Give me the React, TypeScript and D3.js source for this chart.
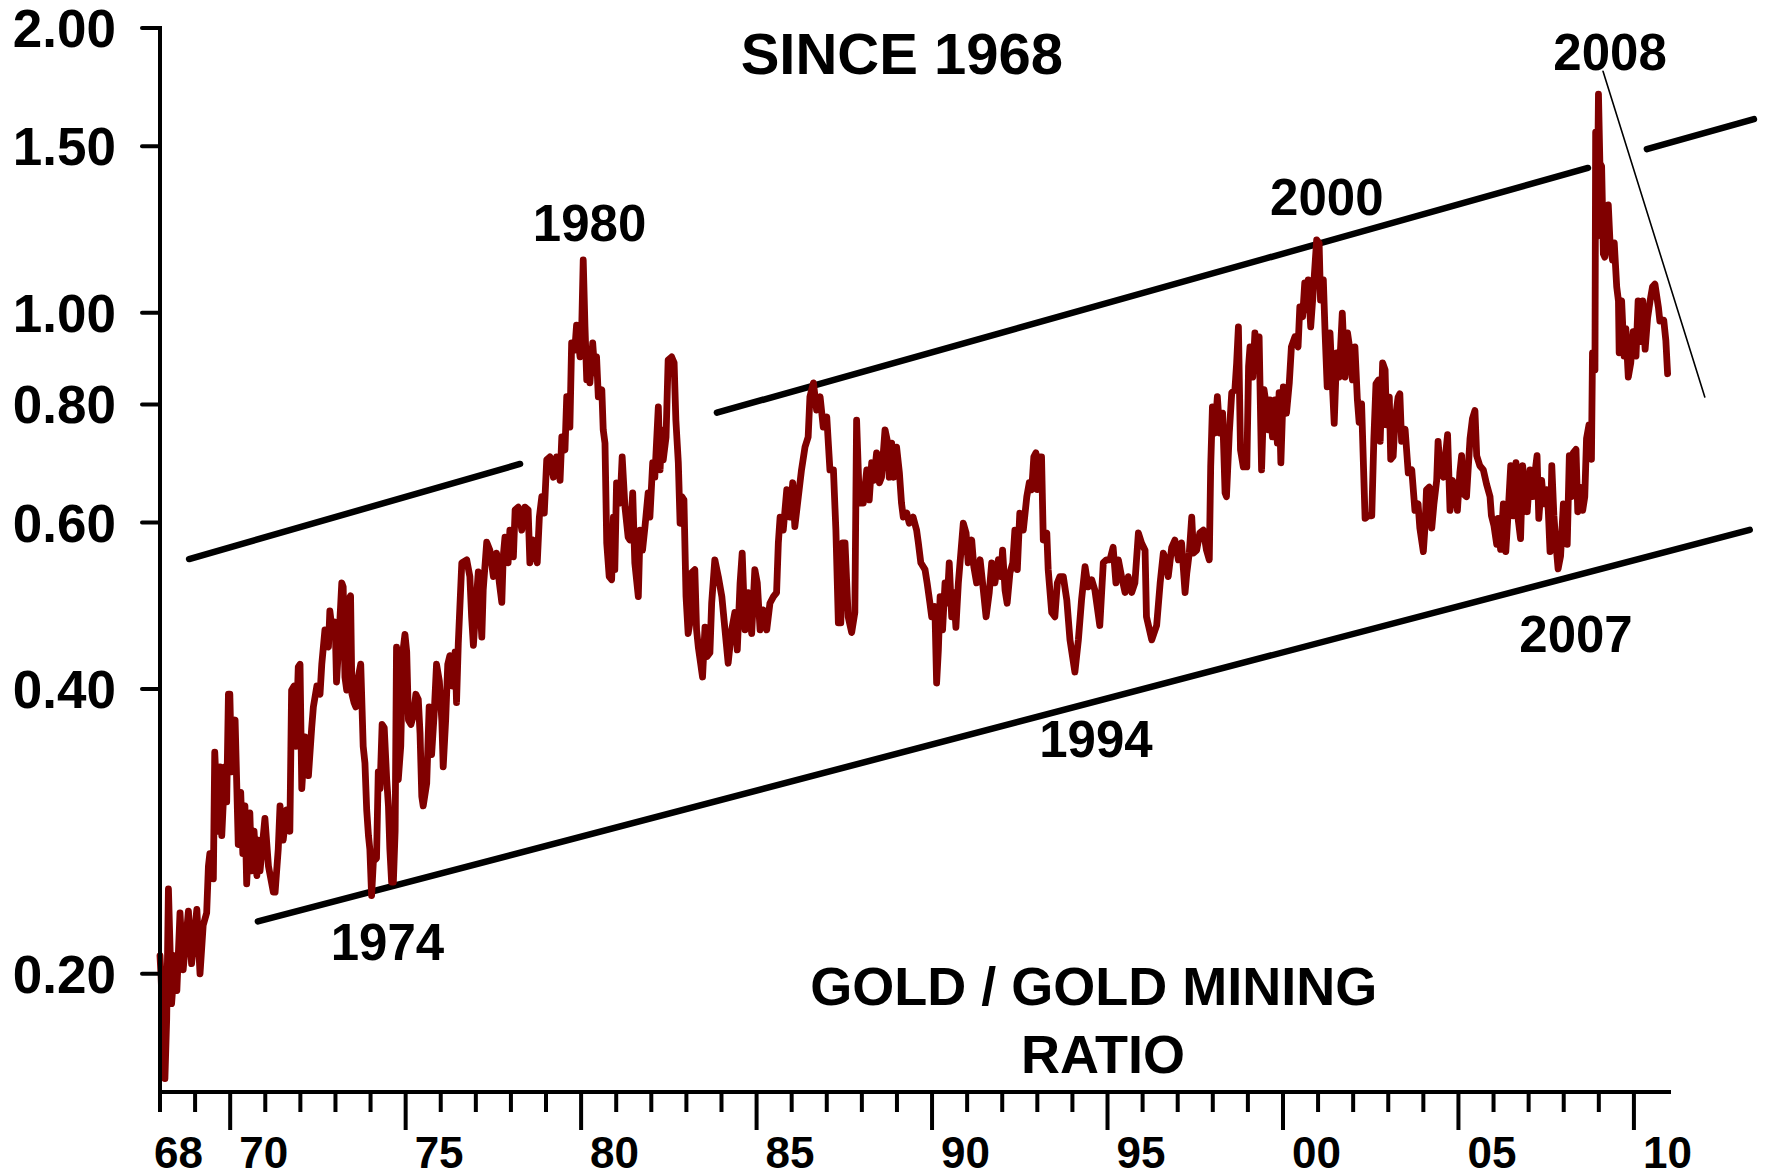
import React from "react";
import * as d3 from "d3";

type Pt = [number, number];

// Gold / gold-mining ratio (year, ratio)
const ratio1968to1975: Pt[] = [
  [1968.00,0.209],[1968.03,0.199],[1968.14,0.155],[1968.19,0.179],[1968.24,0.246],[1968.33,0.186],[1968.43,0.209],[1968.48,0.192],[1968.57,0.232],[1968.66,0.202],[1968.81,0.233],[1968.90,0.205],[1969.05,0.234],[1969.14,0.200],[1969.23,0.225],[1969.33,0.232],[1969.38,0.260],[1969.42,0.268],[1969.52,0.252],[1969.56,0.343],[1969.66,0.283],[1969.71,0.331],[1969.76,0.280],[1969.85,0.331],[1969.90,0.304],[1969.95,0.395],[1969.99,0.395],[1970.04,0.327],[1970.14,0.371],[1970.19,0.314],[1970.23,0.274],[1970.30,0.311],[1970.36,0.268],[1970.42,0.301],[1970.47,0.249],[1970.56,0.296],[1970.61,0.257],[1970.68,0.283],[1970.76,0.254],[1970.80,0.277],[1970.85,0.257],[1970.99,0.292],[1971.09,0.260],[1971.23,0.244],[1971.28,0.244],[1971.37,0.271],[1971.42,0.301],[1971.51,0.277],[1971.61,0.298],[1971.70,0.283],[1971.75,0.399],[1971.82,0.403],[1971.87,0.348],[1971.94,0.422],[1971.99,0.425],[1972.04,0.314],[1972.13,0.356],[1972.23,0.324],[1972.32,0.363],[1972.37,0.383],[1972.47,0.403],[1972.56,0.395],[1972.61,0.425],[1972.70,0.462],[1972.80,0.443],[1972.84,0.484],[1972.92,0.457],[1972.99,0.471],[1973.03,0.407],[1973.08,0.438],[1973.18,0.518],[1973.22,0.513],[1973.27,0.412],[1973.32,0.399],[1973.37,0.497],[1973.43,0.502],[1973.47,0.395],[1973.53,0.387],[1973.58,0.383],[1973.65,0.412],[1973.72,0.425],[1973.79,0.348],[1973.84,0.334],[1973.89,0.298],[1973.94,0.280],[1973.98,0.271],[1974.03,0.242],[1974.08,0.263],[1974.17,0.265],[1974.22,0.327],[1974.27,0.314],[1974.33,0.367],[1974.39,0.364],[1974.46,0.321],[1974.51,0.301],[1974.55,0.271],[1974.60,0.250],[1974.65,0.250],[1974.70,0.283],[1974.74,0.443],[1974.79,0.321],[1974.86,0.348],[1974.92,0.438],[1974.98,0.457],[1975.03,0.438],[1975.08,0.371],[1975.15,0.367],[1975.22,0.375],[1975.29,0.395],[1975.36,0.390],[1975.41,0.359],[1975.46,0.308],[1975.50,0.301],[1975.60,0.318],[1975.67,0.383],[1975.74,0.341],[1975.81,0.375],[1975.88,0.425],[1975.96,0.408]
];

const ratio1976to1984: Pt[] = [
  [1976.03,0.371],[1976.07,0.331],[1976.14,0.371],[1976.20,0.425],[1976.26,0.434],[1976.34,0.403],[1976.41,0.438],[1976.45,0.387],[1976.50,0.447],[1976.60,0.544],[1976.74,0.548],[1976.83,0.526],[1976.88,0.477],[1976.93,0.445],[1977.02,0.501],[1977.07,0.532],[1977.17,0.454],[1977.21,0.509],[1977.31,0.572],[1977.40,0.561],[1977.50,0.526],[1977.59,0.557],[1977.67,0.518],[1977.74,0.494],[1977.78,0.552],[1977.83,0.579],[1977.92,0.544],[1977.97,0.589],[1978.07,0.552],[1978.12,0.619],[1978.21,0.623],[1978.31,0.589],[1978.40,0.623],[1978.49,0.619],[1978.54,0.544],[1978.64,0.575],[1978.75,0.544],[1978.81,0.608],[1978.88,0.639],[1978.95,0.614],[1979.02,0.699],[1979.11,0.704],[1979.21,0.670],[1979.30,0.704],[1979.40,0.665],[1979.45,0.739],[1979.54,0.716],[1979.59,0.815],[1979.68,0.757],[1979.73,0.929],[1979.82,0.913],[1979.87,0.970],[1979.97,0.898],[1980.02,0.975],[1980.06,1.137],[1980.11,0.966],[1980.16,0.849],[1980.20,0.913],[1980.25,0.843],[1980.33,0.929],[1980.39,0.864],[1980.44,0.898],[1980.49,0.815],[1980.59,0.829],[1980.63,0.752],[1980.68,0.728],[1980.73,0.571],[1980.80,0.526],[1980.87,0.522],[1980.92,0.608],[1980.96,0.535],[1981.01,0.661],[1981.11,0.629],[1981.17,0.704],[1981.25,0.623],[1981.34,0.579],[1981.39,0.575],[1981.47,0.645],[1981.53,0.544],[1981.63,0.501],[1981.68,0.589],[1981.75,0.561],[1981.82,0.594],[1981.91,0.645],[1981.96,0.608],[1982.04,0.694],[1982.10,0.670],[1982.20,0.795],[1982.25,0.682],[1982.30,0.752],[1982.34,0.699],[1982.42,0.739],[1982.48,0.891],[1982.58,0.898],[1982.65,0.885],[1982.70,0.770],[1982.77,0.694],[1982.82,0.599],[1982.87,0.639],[1982.93,0.634],[1982.99,0.501],[1983.05,0.458],[1983.10,0.470],[1983.15,0.531],[1983.24,0.535],[1983.29,0.462],[1983.34,0.443],[1983.39,0.430],[1983.46,0.412],[1983.53,0.465],[1983.59,0.433],[1983.67,0.437],[1983.72,0.493],[1983.81,0.548],[1983.91,0.526],[1984.01,0.501],[1984.10,0.462],[1984.19,0.426],[1984.29,0.462],[1984.38,0.482],[1984.45,0.440],[1984.53,0.518],[1984.59,0.557],[1984.67,0.462],[1984.76,0.506],[1984.86,0.458],[1984.95,0.535]
];

const ratio1985to1993: Pt[] = [
  [1985.02,0.518],[1985.10,0.462],[1985.19,0.485],[1985.29,0.462],[1985.38,0.493],[1985.48,0.501],[1985.57,0.506],[1985.62,0.571],[1985.67,0.608],[1985.76,0.589],[1985.86,0.650],[1985.95,0.608],[1986.03,0.661],[1986.09,0.594],[1986.19,0.639],[1986.28,0.682],[1986.38,0.721],[1986.47,0.739],[1986.52,0.815],[1986.62,0.843],[1986.71,0.789],[1986.81,0.815],[1986.90,0.757],[1987.00,0.776],[1987.09,0.682],[1987.19,0.682],[1987.26,0.589],[1987.33,0.470],[1987.40,0.470],[1987.45,0.571],[1987.52,0.571],[1987.61,0.477],[1987.71,0.459],[1987.80,0.482],[1987.85,0.770],[1987.93,0.629],[1988.04,0.629],[1988.14,0.682],[1988.21,0.634],[1988.28,0.694],[1988.34,0.665],[1988.42,0.711],[1988.50,0.661],[1988.56,0.670],[1988.66,0.752],[1988.72,0.734],[1988.78,0.670],[1988.85,0.728],[1988.91,0.670],[1988.99,0.721],[1989.07,0.677],[1989.13,0.629],[1989.18,0.608],[1989.28,0.614],[1989.35,0.599],[1989.46,0.608],[1989.56,0.589],[1989.61,0.571],[1989.68,0.544],[1989.80,0.535],[1989.86,0.518],[1989.94,0.493],[1989.99,0.477],[1990.08,0.489],[1990.13,0.406],[1990.18,0.440],[1990.23,0.501],[1990.30,0.462],[1990.37,0.518],[1990.43,0.493],[1990.49,0.544],[1990.56,0.477],[1990.62,0.506],[1990.68,0.465],[1990.75,0.518],[1990.82,0.557],[1990.89,0.599],[1990.97,0.585],[1991.03,0.544],[1991.13,0.575],[1991.19,0.539],[1991.27,0.518],[1991.37,0.548],[1991.44,0.518],[1991.54,0.477],[1991.63,0.506],[1991.70,0.544],[1991.79,0.518],[1991.89,0.548],[1991.96,0.526],[1992.01,0.561],[1992.08,0.509],[1992.14,0.493],[1992.22,0.531],[1992.30,0.544],[1992.36,0.589],[1992.43,0.535],[1992.50,0.614],[1992.60,0.589],[1992.70,0.639],[1992.77,0.661],[1992.84,0.650],[1992.90,0.704],[1992.96,0.711],[1993.00,0.650],[1993.05,0.704],[1993.12,0.704],[1993.17,0.575],[1993.27,0.585],[1993.31,0.535],[1993.41,0.482],[1993.50,0.477],[1993.57,0.518],[1993.64,0.526],[1993.74,0.526],[1993.84,0.497],[1993.93,0.451]
];

const ratio1994to2001: Pt[] = [
  [1994.07,0.417],[1994.17,0.451],[1994.26,0.497],[1994.36,0.539],[1994.45,0.513],[1994.55,0.522],[1994.64,0.509],[1994.78,0.467],[1994.88,0.544],[1994.97,0.548],[1995.07,0.548],[1995.16,0.565],[1995.24,0.518],[1995.31,0.548],[1995.40,0.526],[1995.50,0.506],[1995.59,0.526],[1995.69,0.506],[1995.78,0.518],[1995.88,0.585],[1995.97,0.571],[1996.07,0.561],[1996.11,0.477],[1996.26,0.451],[1996.40,0.467],[1996.50,0.518],[1996.59,0.557],[1996.66,0.548],[1996.73,0.526],[1996.83,0.565],[1996.92,0.575],[1997.02,0.548],[1997.11,0.571],[1997.21,0.506],[1997.26,0.531],[1997.33,0.557],[1997.40,0.608],[1997.45,0.557],[1997.54,0.561],[1997.63,0.585],[1997.73,0.589],[1997.82,0.561],[1997.90,0.548],[1997.94,0.687],[1997.99,0.795],[1998.06,0.746],[1998.13,0.815],[1998.20,0.746],[1998.28,0.783],[1998.35,0.645],[1998.39,0.639],[1998.47,0.746],[1998.54,0.823],[1998.63,0.829],[1998.68,0.885],[1998.73,0.966],[1998.79,0.716],[1998.87,0.687],[1998.97,0.687],[1999.02,0.878],[1999.06,0.920],[1999.14,0.855],[1999.20,0.952],[1999.27,0.878],[1999.32,0.943],[1999.39,0.682],[1999.46,0.829],[1999.53,0.795],[1999.58,0.752],[1999.63,0.809],[1999.70,0.739],[1999.77,0.809],[1999.84,0.728],[1999.89,0.823],[1999.94,0.694],[2000.01,0.835],[2000.10,0.783],[2000.18,0.843],[2000.24,0.920],[2000.34,0.943],[2000.43,0.920],[2000.48,1.014],[2000.56,0.990],[2000.62,1.075],[2000.67,1.007],[2000.72,1.083],[2000.79,0.966],[2000.86,1.049],[2000.96,1.194],[2001.03,1.185],[2001.07,1.031],[2001.15,1.083],[2001.20,0.952],[2001.26,0.835],[2001.34,0.952],[2001.41,0.835],[2001.46,0.764],[2001.53,0.907],[2001.60,0.855],[2001.69,0.999],[2001.77,0.855],[2001.84,0.952],[2001.91,0.913],[2001.98,0.849]
];

const ratio2002to2010: Pt[] = [
  [2002.05,0.920],[2002.12,0.809],[2002.17,0.766],[2002.24,0.801],[2002.34,0.606],[2002.43,0.610],[2002.53,0.610],[2002.59,0.736],[2002.65,0.841],[2002.72,0.849],[2002.77,0.731],[2002.84,0.885],[2002.91,0.870],[2002.95,0.761],[2003.03,0.814],[2003.07,0.700],[2003.14,0.705],[2003.19,0.766],[2003.28,0.814],[2003.33,0.821],[2003.38,0.731],[2003.48,0.753],[2003.57,0.677],[2003.67,0.682],[2003.76,0.618],[2003.85,0.628],[2003.90,0.592],[2004.00,0.559],[2004.05,0.596],[2004.09,0.650],[2004.17,0.654],[2004.24,0.592],[2004.30,0.627],[2004.38,0.665],[2004.42,0.731],[2004.49,0.677],[2004.57,0.670],[2004.63,0.706],[2004.69,0.743],[2004.76,0.618],[2004.83,0.665],[2004.90,0.654],[2004.97,0.618],[2005.04,0.677],[2005.09,0.706],[2005.15,0.643],[2005.23,0.639],[2005.33,0.736],[2005.40,0.773],[2005.47,0.788],[2005.52,0.706],[2005.61,0.689],[2005.71,0.682],[2005.80,0.659],[2005.90,0.639],[2005.94,0.610],[2006.01,0.596],[2006.09,0.569],[2006.13,0.606],[2006.20,0.562],[2006.28,0.628],[2006.35,0.559],[2006.42,0.618],[2006.49,0.689],[2006.56,0.610],[2006.64,0.694],[2006.70,0.606],[2006.77,0.577],[2006.83,0.689],[2006.89,0.650],[2006.96,0.616],[2007.04,0.682],[2007.11,0.639],[2007.18,0.677],[2007.24,0.706],[2007.29,0.606],[2007.37,0.665],[2007.43,0.628],[2007.51,0.650],[2007.56,0.618],[2007.61,0.559],[2007.66,0.689],[2007.72,0.610],[2007.78,0.569],[2007.84,0.536],[2007.91,0.553],[2007.99,0.628],[2008.07,0.618],[2008.10,0.569],[2008.16,0.706],[2008.22,0.639],[2008.27,0.711],[2008.35,0.717],[2008.40,0.616],[2008.46,0.654],[2008.54,0.618],[2008.60,0.639],[2008.65,0.736],[2008.72,0.761],[2008.79,0.700],[2008.82,0.907],[2008.89,0.870],[2008.91,1.552],[2008.95,1.205],[2008.99,1.703],[2009.03,1.440],[2009.08,1.428],[2009.13,1.154],[2009.17,1.145],[2009.27,1.300],[2009.32,1.185],[2009.39,1.137],[2009.44,1.185],[2009.51,1.065],[2009.56,1.029],[2009.58,0.907],[2009.65,1.029],[2009.72,0.900],[2009.77,0.962],[2009.84,0.855],[2009.91,0.885],[2009.98,0.955],[2010.06,0.900],[2010.12,1.029],[2010.20,0.932],[2010.25,1.029],[2010.32,0.915],[2010.39,0.987],[2010.46,1.029],[2010.53,1.065],[2010.60,1.072],[2010.70,1.012],[2010.74,0.980],[2010.85,0.982],[2010.91,0.935],[2010.96,0.862]
];

const ratioSeries: Pt[] = [
  ...ratio1968to1975,
  ...ratio1976to1984,
  ...ratio1985to1993,
  ...ratio1994to2001,
  ...ratio2002to2010,
];

// Axis ticks
const yTickValues = [0.2, 0.4, 0.6, 0.8, 1.0, 1.5, 2.0];
const yTickLabels = ["0.20", "0.40", "0.60", "0.80", "1.00", "1.50", "2.00"];
const xMajorYears = [1970, 1975, 1980, 1985, 1990, 1995, 2000, 2005, 2010];
const xLabelYears = [1968, 1970, 1975, 1980, 1985, 1990, 1995, 2000, 2005, 2010];
const xLabelTexts = ["68", "70", "75", "80", "85", "90", "95", "00", "05", "10"];

// Channel / trend lines (year, ratio) endpoints
const trendEarlyUpper: Pt[] = [[1968.83, 0.549], [1978.26, 0.692]];
const trendLower: Pt[] = [[1970.79, 0.2272], [2013.3, 0.5895]];
const trendUpper: Pt[] = [[1983.87, 0.784], [2008.69, 1.4225]];
const trendUpperRight: Pt[] = [[2010.37, 1.489], [2013.42, 1.602]];
const trendThin: Pt[] = [[2009.12, 1.8], [2012.02, 0.8147]];

// Annotations (text, year, ratio at baseline)
const annotationTexts = ["SINCE 1968", "1980", "2000", "2008", "2007", "1974", "1994", "GOLD / GOLD MINING", "RATIO"];
const annotationYears = [1989.14, 1980.24, 2001.25, 2009.32, 2008.35, 1974.48, 1994.67, 1994.61, 1994.87];
const annotationValues = [1.788, 1.191, 1.268, 1.805, 0.4378, 0.2068, 0.339, 0.1853, 0.1571];

const FONT = "'Liberation Sans', Arial, Helvetica, sans-serif";

export default function App() {
  const W = 1765;
  const H = 1176;
  const x = d3.scaleLinear().domain([1968, 2011]).range([160, 1669]);
  const y = d3.scaleLog().domain([0.15, 2.0]).range([1092, 28]);
  const line = d3.line<Pt>().x((d) => x(d[0])).y((d) => y(d[1]));

  const axisY = 1092;
  const axisX = x(1968);
  const minorYears = d3.range(1968, 2011);
  const annSizes = [58, 51, 51, 51, 51, 51, 51, 54, 54];

  const trend = (pts: Pt[], w: number, key: string) => (
    <path key={key} d={line(pts) || ""} fill="none" stroke="#000" strokeWidth={w} strokeLinecap="round" />
  );

  return (
    <svg
      width={W}
      height={H}
      viewBox={`0 0 ${W} ${H}`}
      style={{ position: "absolute", left: 0, top: 0, background: "#fff" }}
      fontFamily={FONT}
      fontWeight="bold"
    >
      <rect x={0} y={0} width={W} height={H} fill="#fff" />

      {/* trend lines */}
      {trend(trendEarlyUpper, 6.5, "t1")}
      {trend(trendLower, 6.5, "t2")}
      {trend(trendUpper, 6.5, "t3")}
      {trend(trendUpperRight, 6.5, "t4")}
      {trend(trendThin, 1.6, "t5")}

      {/* ratio series */}
      <path
        d={line(ratioSeries) || ""}
        fill="none"
        stroke="#800000"
        strokeWidth={6.8}
        strokeLinejoin="round"
        strokeLinecap="round"
      />

      {/* y axis */}
      <line x1={axisX} y1={y(2.0)} x2={axisX} y2={axisY} stroke="#000" strokeWidth={4} strokeLinecap="square" />
      {yTickValues.map((v, i) => (
        <g key={"yt" + i}>
          <line x1={axisX - 18} x2={axisX} y1={y(v)} y2={y(v)} stroke="#000" strokeWidth={4} strokeLinecap="round" />
          <text x={116} y={y(v) + 19} textAnchor="end" fontSize={53} fill="#000">
            {yTickLabels[i]}
          </text>
        </g>
      ))}

      {/* x axis */}
      <line x1={axisX} y1={axisY} x2={x(2011)} y2={axisY} stroke="#000" strokeWidth={4} strokeLinecap="square" />
      {minorYears.map((yr) => {
        const major = xMajorYears.includes(yr);
        return (
          <line
            key={"xt" + yr}
            x1={x(yr)}
            x2={x(yr)}
            y1={axisY}
            y2={axisY + (major ? 38 : 20)}
            stroke="#000"
            strokeWidth={4}
          />
        );
      })}
      {xLabelYears.map((yr, i) => (
        <text
          key={"xl" + yr}
          x={x(yr) + (i === 0 ? -6 : 9)}
          y={1168}
          textAnchor="start"
          fontSize={44}
          fill="#000"
        >
          {xLabelTexts[i]}
        </text>
      ))}

      {/* annotations */}
      {annotationTexts.map((t, i) => (
        <text
          key={"an" + i}
          x={x(annotationYears[i])}
          y={y(annotationValues[i])}
          textAnchor="middle"
          fontSize={annSizes[i]}
          fill="#000"
        >
          {t}
        </text>
      ))}
    </svg>
  );
}
